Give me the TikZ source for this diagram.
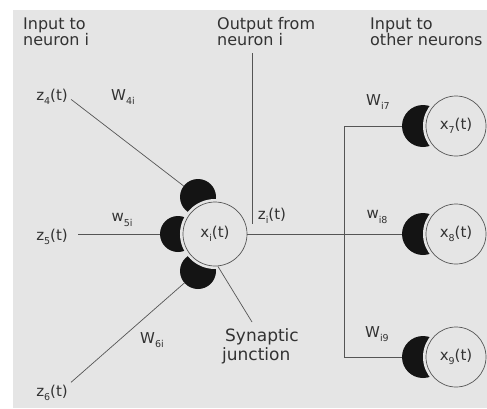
\documentclass[tikz,border=0pt]{standalone}
\usepackage{fontspec}
\setmainfont{DejaVu Sans}
\definecolor{bg}{RGB}{229,229,229}
\definecolor{ink}{RGB}{85,85,85}
\definecolor{txt}{RGB}{50,50,50}
\newcommand\lowsub[1]{\raisebox{-0.5ex}{\fontsize{9.5}{10}\selectfont #1}}
\begin{document}
\begin{tikzpicture}[x=1pt,y=-1pt,
  lbl/.style={font=\fontsize{15}{18}\selectfont, text=txt, inner sep=0pt},
  head/.style={font=\fontsize{16}{19}\selectfont, text=txt, inner sep=0pt, anchor=base west},
  wire/.style={draw=ink, line width=0.7pt},
  syn/.style={circle, fill=black!92, inner sep=0pt, minimum size=#1},
  syn/.default=36,
  neuron/.style={circle, draw=ink, line width=0.7pt, fill=bg, inner sep=0pt,
    minimum size=#1, text=txt, font=\fontsize{15}{18}\selectfont,
    preaction={draw=bg, fill=bg, line width=6pt}},
  neuron/.default=60]
\useasboundingbox (0,0) rectangle (487,408);
\fill[bg] (13,10) rectangle (487,408);

% column headings
\node[head] (h1a) at (23,29) {Input to};
\node[head] (h1b) at (23,45) {neuron i};
\node[head] (h2a) at (217,29) {Output from};
\node[head] (h2b) at (217,45) {neuron i};
\node[head] (h3a) at (370,29) {Input to};
\node[head] (h3b) at (370,45) {other neurons};

% synapses (black discs, later cut into crescents by the neuron gaps)
\node[syn=36] (s4) at (198,197) {};
\node[syn=36] (s5) at (178,234) {};
\node[syn=36] (s6) at (198,271) {};
\node[syn=42] (s7) at (423,126) {};
\node[syn=42] (s8) at (423,234) {};
\node[syn=42] (s9) at (423,357) {};

% inputs to neuron i
\node[lbl, anchor=east] (z4) at (68,97) {z\lowsub{4}(t)};
\node[lbl, anchor=east] (z5) at (68,237) {z\lowsub{5}(t)};
\node[lbl, anchor=east] (z6) at (68,393) {z\lowsub{6}(t)};
\draw[wire, shorten <=4pt] (z4.east) -- (s4);
\draw[wire, shorten <=10pt] (z5.east |- s5) -- (s5);
\draw[wire, shorten <=4pt] (z6.north east) -- (s6);

\node[lbl] (w4) at (123,97) {W\lowsub{4i}};
\node[lbl] (w5) at (122,220) {w\lowsub{5i}};
\node[lbl] (w6) at (152,340) {W\lowsub{6i}};

% neurons
\node[neuron=64] (xi) at (215,234) {x\lowsub{i}(t)};
\node[neuron] (x7) at (456,126) {x\lowsub{7}(t)};
\node[neuron] (x8) at (456,234) {x\lowsub{8}(t)};
\node[neuron] (x9) at (456,357) {x\lowsub{9}(t)};

% output of neuron i
\coordinate (oend) at (252,224);
\draw[wire, shorten <=8pt] (h2b.base -| oend) -- (oend);
\node[lbl] (zi) at (272,216) {z\lowsub{i}(t)};
\draw[wire] (xi) -- (s8);
\coordinate (b7) at (344,126);
\coordinate (b9) at (344,357);
\draw[wire] (s7) -- (b7) -- (b9) -- (s9);

\node[lbl] (wi7) at (378,102) {W\lowsub{i7}};
\node[lbl] (wi8) at (377,217) {w\lowsub{i8}};
\node[lbl] (wi9) at (377,334) {W\lowsub{i9}};

% synaptic junction callout
\node[font=\fontsize{17}{20}\selectfont, text=txt, inner sep=0pt, anchor=base west] (sj1) at (225,341) {Synaptic};
\node[font=\fontsize{17}{20}\selectfont, text=txt, inner sep=0pt, anchor=base west] (sj2) at (222,360) {junction};
\coordinate (jt) at (252,322);
\draw[wire] (xi.-85) -- (jt);
\end{tikzpicture}
\end{document}
